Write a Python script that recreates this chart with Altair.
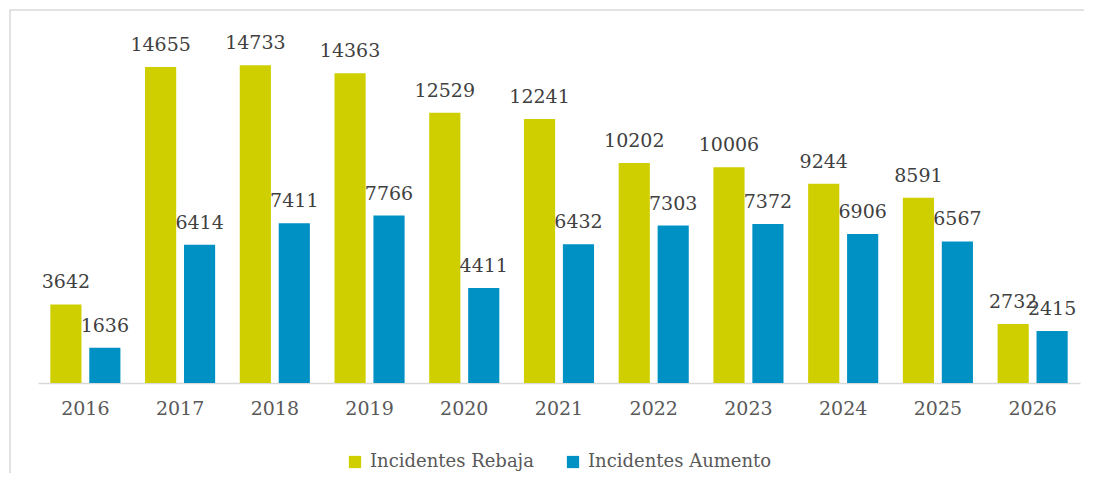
import altair as alt
import pandas as pd

years = ["2016", "2017", "2018", "2019", "2020", "2021", "2022", "2023", "2024", "2025", "2026"]
rebaja = [3642, 14655, 14733, 14363, 12529, 12241, 10202, 10006, 9244, 8591, 2732]
aumento = [1636, 6414, 7411, 7766, 4411, 6432, 7303, 7372, 6906, 6567, 2415]
series = ["Incidentes Rebaja", "Incidentes Aumento"]
colors = ["#CFCF00", "#0091C4"]

rows = []
for i, y in enumerate(years):
    rows.append({"year": y, "serie": series[0], "value": rebaja[i]})
    rows.append({"year": y, "serie": series[1], "value": aumento[i]})
df = pd.DataFrame(rows)

FONT = "DejaVu Serif"

x = alt.X("year:N", sort=years, title=None,
          scale=alt.Scale(paddingInner=0.26, paddingOuter=0.13, round=False),
          axis=alt.Axis(labelAngle=0, ticks=False, domainColor="#d9d9d9", domainWidth=1.5,
                        labelFont=FONT, labelFontSize=19, labelColor="#595959", labelPadding=16))
xo = alt.XOffset("serie:N", sort=series, scale=alt.Scale(paddingInner=0.2, paddingOuter=0, round=False))
y = alt.Y("value:Q", scale=alt.Scale(domain=[0, 16000], nice=False), axis=None)
color = alt.Color("serie:N", sort=series, scale=alt.Scale(domain=series, range=colors),
                  legend=alt.Legend(title=None, orient="none", direction="horizontal",
                                    legendX=308, legendY=415, symbolType="square", symbolSize=150,
                                    symbolStrokeWidth=0, labelFont=FONT, labelFontSize=18,
                                    labelColor="#595959", columnPadding=30, labelOffset=6,
                                    labelLimit=400))

bars = alt.Chart(df).mark_bar().encode(x=x, xOffset=xo, y=y, color=color)
labels = alt.Chart(df).mark_text(font=FONT, fontSize=19, color="#404040", baseline="alphabetic", dy=-16).encode(
    x=x, xOffset=xo, y=y, text="value:Q")

frame = alt.Chart(pd.DataFrame({"a": [0]})).mark_rect(fill="transparent", stroke="#d9d9d9", strokeWidth=1.5).encode(
    x=alt.value(-28), x2=alt.value(2000), y=alt.value(-28), y2=alt.value(2000))

chart = alt.layer(frame, bars, labels).properties(
    width=1042, height=345, padding={"left": 30, "top": 30, "right": 4, "bottom": 90},
    autosize=alt.AutoSizeParams(type="none")
).configure(background="white", view=alt.ViewConfig(stroke=None))

chart.save("out.html", embed_options={"renderer": "svg", "actions": False})
